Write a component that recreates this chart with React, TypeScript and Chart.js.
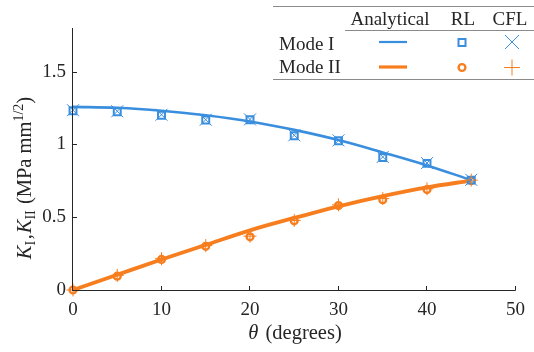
import React, { useEffect, useRef } from 'react';
import { Chart, registerables } from 'chart.js';

Chart.register(...registerables);

// ---- data ----
const theta = [0, 5, 10, 15, 20, 25, 30, 35, 40, 45];
const analyticalModeI = [1.258, 1.252, 1.232, 1.2, 1.158, 1.1, 1.03, 0.945, 0.856, 0.755];
const rlModeI = [1.232, 1.225, 1.2, 1.168, 1.17, 1.06, 1.025, 0.91, 0.87, 0.755];
const cflModeI = [1.235, 1.228, 1.204, 1.17, 1.172, 1.063, 1.028, 0.914, 0.872, 0.757];
const analyticalModeII = [0, 0.105, 0.21, 0.31, 0.41, 0.495, 0.575, 0.645, 0.705, 0.752];
const rlModeII = [0, 0.095, 0.21, 0.3, 0.365, 0.475, 0.58, 0.62, 0.69, 0.752];
const cflModeII = [0, 0.1, 0.215, 0.305, 0.37, 0.478, 0.585, 0.628, 0.695, 0.755];

const xTickValues = [0, 10, 20, 30, 40, 50];
const yTickValues = [0, 0.5, 1, 1.5];
const yTickLabels = ['0', '0.5', '1', '1.5'];

const legendHeaders = ['Analytical', 'RL', 'CFL'];
const legendRows = ['Mode I', 'Mode II'];

const BLUE = 'rgb(58,142,222)';
const ORANGE = 'rgb(247,126,30)';
const INK = '#262626';
const RULE = '#8a8a8a';
const FAM = '"Liberation Serif", "Times New Roman", serif';
const FS = 19;
const TS = 20.5;

const pts = (ys: number[]) => theta.map((t, i) => ({ x: t, y: ys[i] }));

const decorPlugin = {
  id: 'decor',
  afterDraw(chart: any) {
    const ctx: CanvasRenderingContext2D = chart.ctx;
    const a = chart.chartArea;
    const xs = chart.scales.x;
    const ys = chart.scales.y;
    ctx.save();
    // axes
    ctx.strokeStyle = INK;
    ctx.lineWidth = 1;
    const L = Math.round(a.left) - 0.5;
    const B = Math.round(a.bottom) + 0.5;
    ctx.beginPath();
    ctx.moveTo(L, a.top);
    ctx.lineTo(L, B);
    ctx.lineTo(a.right, B);
    ctx.stroke();
    // inward ticks
    ctx.beginPath();
    xTickValues.forEach((v) => {
      const px = Math.round(xs.getPixelForValue(v)) - 0.5;
      ctx.moveTo(px, B);
      ctx.lineTo(px, B - 4.5);
    });
    yTickValues.forEach((v) => {
      const py = Math.round(ys.getPixelForValue(v)) + 0.5;
      ctx.moveTo(L, py);
      ctx.lineTo(L + 4.5, py);
    });
    ctx.stroke();

    // x title
    ctx.fillStyle = INK;
    ctx.textBaseline = 'alphabetic';
    const fN = `${FS}px ${FAM}`;
    const tN = `${TS}px ${FAM}`;
    const tI = `italic ${TS}px ${FAM}`;
    const tS = `${Math.round(TS * 0.7)}px ${FAM}`;
    ctx.font = tI;
    const wT = ctx.measureText('θ').width;
    ctx.font = tN;
    const wR = ctx.measureText(' (degrees)').width;
    const sx = 295 - (wT + wR + 2) / 2;
    ctx.font = tI;
    ctx.fillText('θ', sx, 339);
    ctx.font = tN;
    ctx.fillText(' (degrees)', sx + wT + 2, 339);

    // y title (rotated) with sub/superscripts
    const parts: [string, string, number, number][] = [
      ['K', tI, 0, 0],
      ['I', tS, 4, 1.5],
      [',', tN, 0, 1],
      ['K', tI, 0, 0],
      ['II', tS, 4, 1],
      [' (MPa mm', tN, 0, 0],
      ['1/2', tS, -8, 0],
      [')', tN, 0, 0],
    ];
    let total = 0;
    const widths = parts.map(([t, f, , g]) => {
      ctx.font = f;
      const w = ctx.measureText(t).width + g;
      total += w;
      return w;
    });
    ctx.save();
    ctx.translate(31, 178);
    ctx.rotate(-Math.PI / 2);
    let px = -total / 2;
    parts.forEach(([t, f, dy], i) => {
      ctx.font = f;
      ctx.fillText(t, px, dy);
      px += widths[i];
    });
    ctx.restore();

    // legend table
    ctx.strokeStyle = RULE;
    ctx.lineWidth = 1;
    ctx.beginPath();
    ctx.moveTo(273, 6.5); ctx.lineTo(534, 6.5);
    ctx.moveTo(345, 30.5); ctx.lineTo(534, 30.5);
    ctx.moveTo(273, 79.5); ctx.lineTo(534, 79.5);
    ctx.stroke();

    ctx.font = fN;
    ctx.fillStyle = INK;
    ctx.textAlign = 'center';
    const headX = [390, 463, 510];
    legendHeaders.forEach((h, i) => ctx.fillText(h, headX[i], 25));
    ctx.textAlign = 'left';
    const rowY = [50, 73];
    legendRows.forEach((r, i) => ctx.fillText(r, 279, rowY[i]));

    // line samples
    ctx.lineCap = 'butt';
    ctx.strokeStyle = BLUE;
    ctx.lineWidth = 2.2;
    ctx.beginPath(); ctx.moveTo(379, 42); ctx.lineTo(407, 42); ctx.stroke();
    ctx.strokeStyle = ORANGE;
    ctx.lineWidth = 3.2;
    ctx.beginPath(); ctx.moveTo(379, 67); ctx.lineTo(407, 67); ctx.stroke();
    // RL markers
    ctx.strokeStyle = BLUE;
    ctx.lineWidth = 2;
    ctx.strokeRect(458.5, 39, 7, 7);
    ctx.strokeStyle = ORANGE;
    ctx.lineWidth = 2.4;
    ctx.beginPath(); ctx.arc(462, 67.5, 3.4, 0, Math.PI * 2); ctx.stroke();
    // CFL markers
    ctx.strokeStyle = BLUE;
    ctx.lineWidth = 1;
    ctx.beginPath();
    ctx.moveTo(505, 35); ctx.lineTo(519, 49);
    ctx.moveTo(519, 35); ctx.lineTo(505, 49);
    ctx.stroke();
    ctx.strokeStyle = ORANGE;
    ctx.beginPath();
    ctx.moveTo(504, 67.5); ctx.lineTo(520, 67.5);
    ctx.moveTo(512, 59.5); ctx.lineTo(512, 75.5);
    ctx.stroke();

    ctx.restore();
  },
};

export default function App() {
  const ref = useRef<HTMLCanvasElement | null>(null);

  useEffect(() => {
    if (!ref.current) return;
    const lineDs = (data: number[], color: string, w: number) => ({
      data: pts(data),
      borderColor: color,
      backgroundColor: color,
      borderWidth: w,
      pointRadius: 0,
      showLine: true,
      tension: 0.35,
      cubicInterpolationMode: 'monotone' as const,
      clip: false as any,
      order: 3,
    });
    const markDs = (data: number[], color: string, style: string, r: number, w: number, order: number) => ({
      data: pts(data),
      borderColor: color,
      backgroundColor: 'rgba(0,0,0,0)',
      borderWidth: w,
      pointStyle: style,
      pointRadius: r,
      pointBorderWidth: w,
      showLine: false,
      clip: false as any,
      order,
    });
    const chart = new Chart(ref.current, {
      type: 'line',
      data: {
        datasets: [
          lineDs(analyticalModeI, BLUE, 2.6),
          lineDs(analyticalModeII, ORANGE, 3.8),
          markDs(rlModeI, BLUE, 'rect', 4.9, 2, 2),
          markDs(rlModeII, ORANGE, 'circle', 3.4, 2.4, 2),
          markDs(cflModeI, BLUE, 'crossRot', 8.5, 1, 1),
          markDs(cflModeII, ORANGE, 'cross', 6.5, 1, 1),
        ] as any,
      },
      options: {
        animation: false,
        responsive: false,
        events: [],
        layout: { padding: { left: 0, top: 28, right: 15, bottom: 0 } },
        plugins: {
          legend: { display: false },
          tooltip: { enabled: false },
          title: { display: false },
        },
        scales: {
          x: {
            type: 'linear',
            min: 0,
            max: 50,
            grid: { display: false, drawTicks: false },
            border: { display: false },
            afterFit: (s: any) => { s.height = 62; },
            afterBuildTicks: (s: any) => { s.ticks = xTickValues.map((v) => ({ value: v })); },
            ticks: {
              color: INK,
              font: { family: FAM, size: FS },
              padding: 9,
              maxRotation: 0,
              callback: (v: any) => String(v),
            },
          },
          y: {
            type: 'linear',
            min: 0,
            max: 1.8,
            grid: { display: false, drawTicks: false },
            border: { display: false },
            afterFit: (s: any) => { s.width = 73; },
            afterBuildTicks: (s: any) => { s.ticks = yTickValues.map((v) => ({ value: v })); },
            ticks: {
              color: INK,
              font: { family: FAM, size: FS },
              padding: 7,
              callback: (v: any) => {
                const i = yTickValues.indexOf(Number(v));
                return i >= 0 ? yTickLabels[i] : '';
              },
            },
          },
        },
      },
      plugins: [decorPlugin],
    });
    return () => chart.destroy();
  }, []);

  return (
    <div style={{ position: 'fixed', left: 0, top: 0, width: 534, height: 352, background: '#fff' }}>
      <canvas ref={ref} width={534} height={352} style={{ width: 534, height: 352, display: 'block' }} />
    </div>
  );
}
